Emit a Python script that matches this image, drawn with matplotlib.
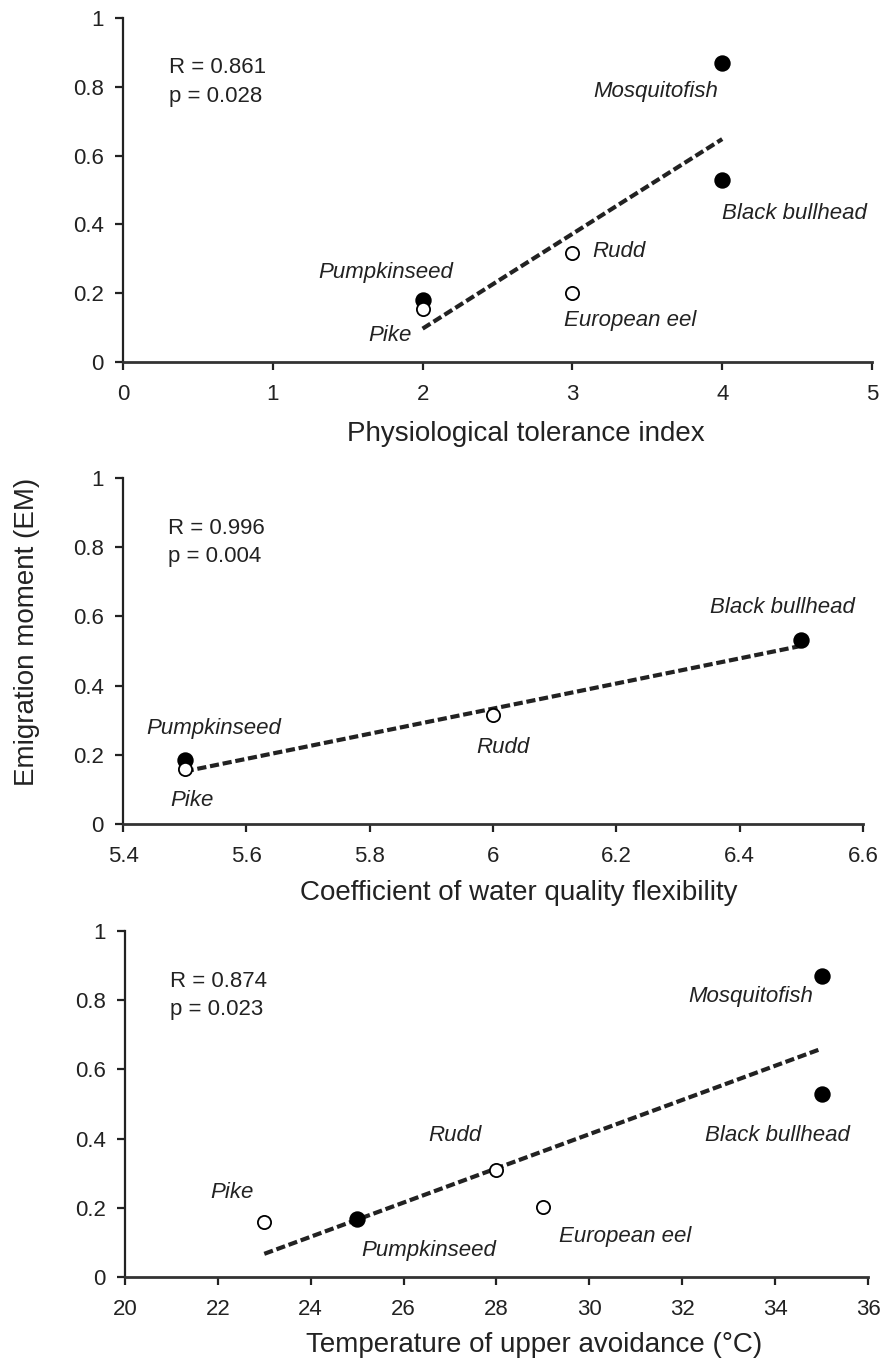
import matplotlib
matplotlib.use("Agg")
import matplotlib.pyplot as plt
import numpy as np

plt.rcParams['font.family'] = ['Liberation Sans', 'DejaVu Sans']

# panel 1: physiological tolerance index
tol_species = ['Mosquitofish', 'Black bullhead', 'Rudd', 'European eel', 'Pumpkinseed', 'Pike']
tol_x = [4, 4, 3, 3, 2, 2]
tol_em = [0.87, 0.53, 0.317, 0.20, 0.18, 0.155]
tol_filled = [True, True, False, False, True, False]
tol_fit = (2, 4, 0.097, 0.648)   # x0, x1, y0, y1 of the fitted line
tol_stats = ('0.861', '0.028')

# panel 2: coefficient of water quality flexibility
wq_species = ['Black bullhead', 'Rudd', 'Pumpkinseed', 'Pike']
wq_x = [6.5, 6.0, 5.5, 5.5]
wq_em = [0.532, 0.315, 0.185, 0.158]
wq_filled = [True, False, True, False]
wq_fit = (5.5, 6.5, 0.152, 0.515)
wq_stats = ('0.996', '0.004')

# panel 3: temperature of upper avoidance
tmp_species = ['Mosquitofish', 'Black bullhead', 'Rudd', 'European eel', 'Pumpkinseed', 'Pike']
tmp_x = [35, 35, 28, 29, 25, 23]
tmp_em = [0.87, 0.53, 0.31, 0.203, 0.167, 0.158]
tmp_filled = [True, True, False, False, True, False]
tmp_fit = (23, 35, 0.067, 0.66)
tmp_stats = ('0.874', '0.023')

# label anchors (data coords) per panel: x, y, ha
tol_lab = [(3.97, 0.785, 'right'), (4.0, 0.433, 'left'), (3.13, 0.320, 'left'),
           (2.947, 0.122, 'left'), (1.753, 0.259, 'center'), (1.927, 0.078, 'right')]
wq_lab = [(6.47, 0.627, 'center'), (6.016, 0.220, 'center'),
          (5.547, 0.277, 'center'), (5.512, 0.069, 'center')]
tmp_lab = [(34.81, 0.81, 'right'), (34.04, 0.41, 'center'), (27.1, 0.41, 'center'),
           (30.77, 0.116, 'center'), (26.55, 0.078, 'center'), (22.3, 0.245, 'center')]

INK = '#222222'
fig = plt.figure(figsize=(8.92, 13.62), dpi=100)

panels = [
    ([0.1379, 0.7342, 0.8397, 0.2526], tol_species, tol_x, tol_em, tol_filled, tol_fit, tol_stats, tol_lab,
     (0, 5), np.arange(0, 6, 1), ['0', '1', '2', '3', '4', '5'],
     'Physiological tolerance index', (0.590, 1 - 441 / 1362)),
    ([0.1379, 0.3950, 0.8296, 0.2540], wq_species, wq_x, wq_em, wq_filled, wq_fit, wq_stats, wq_lab,
     (5.4, 6.6), [5.4, 5.6, 5.8, 6.0, 6.2, 6.4, 6.6], ['5.4', '5.6', '5.8', '6', '6.2', '6.4', '6.6'],
     'Coefficient of water quality flexibility', (0.581, 1 - 900 / 1362)),
    ([0.1401, 0.0624, 0.8330, 0.2540], tmp_species, tmp_x, tmp_em, tmp_filled, tmp_fit, tmp_stats, tmp_lab,
     (20, 36), np.arange(20, 37, 2), [str(v) for v in range(20, 37, 2)],
     'Temperature of upper avoidance (°C)', (0.599, 1 - 1352 / 1362)),
]

for rect, species, xs, ys, filled, fit, stats, labs, xlim, xticks, xticklabels, xlabel, lpos in panels:
    ax = fig.add_axes(rect)
    ax.plot([fit[0], fit[1]], [fit[2], fit[3]], color=INK, lw=3.0,
            linestyle=(0, (2.2, 0.9)), zorder=2)
    for name, x, y, f, (lx, ly, ha) in zip(species, xs, ys, filled, labs):
        ax.plot(x, y, 'o', ms=10.5 if f else 9.5, mec='black', mew=1.3,
                mfc='black' if f else 'white', zorder=3)
        ax.text(lx, ly, name, ha=ha, va='center', fontsize=16, style='italic', color=INK)
    ax.text(0.061, 0.855, 'R = ' + stats[0], transform=ax.transAxes, fontsize=16,
            va='center', color=INK)
    ax.text(0.061, 0.773, 'p = ' + stats[1], transform=ax.transAxes, fontsize=16,
            va='center', color=INK)
    ax.set_xlim(*xlim)
    ax.set_ylim(0, 1)
    ax.set_xticks(xticks)
    ax.set_xticklabels(xticklabels)
    ax.set_yticks([0, 0.2, 0.4, 0.6, 0.8, 1])
    ax.set_yticklabels(['0', '0.2', '0.4', '0.6', '0.8', '1'])
    ax.spines['top'].set_visible(False)
    ax.spines['right'].set_visible(False)
    ax.spines['left'].set_linewidth(1.6)
    ax.spines['bottom'].set_linewidth(2.0)
    ax.spines['left'].set_color(INK)
    ax.spines['bottom'].set_color('#333333')
    ax.tick_params(direction='out', length=6, width=1.6, labelsize=16, colors=INK)
    ax.tick_params(axis='x', pad=10)
    ax.tick_params(axis='y', pad=8)
    fig.text(lpos[0], lpos[1], xlabel, ha='center', va='baseline', fontsize=20, color=INK)

fig.text(0.030, 0.536, 'Emigration moment (EM)', rotation=90, ha='center', va='center',
         fontsize=20, color=INK)

fig.savefig('out.png', dpi=100)
